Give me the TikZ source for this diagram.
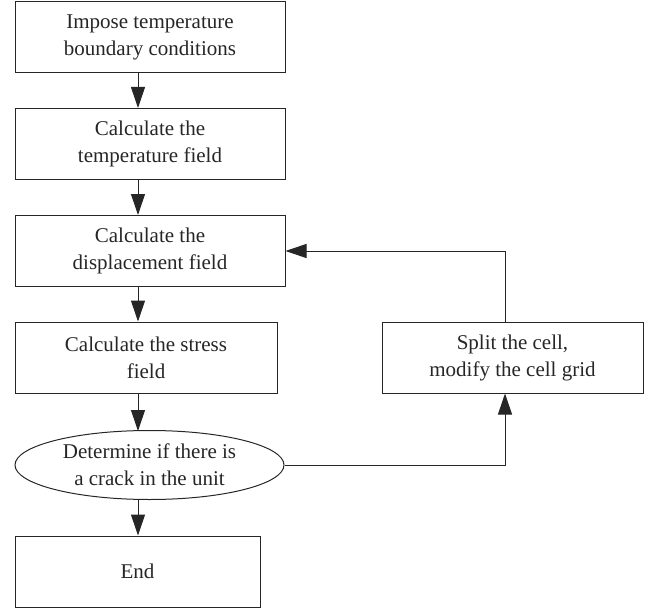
\documentclass[tikz,border=0pt]{standalone}
\usepackage{fontspec}
\setmainfont{Liberation Serif}
\usetikzlibrary{arrows.meta,shapes.geometric,calc}
\begin{document}
\begin{tikzpicture}[x=1pt,y=-1pt,
  line width=1pt,
  every node/.style={font=\fontsize{21}{27}\selectfont, align=center, inner sep=0pt, draw=black!85, text=black!85},
  boxa/.style={rectangle, minimum height=71pt},
  ell/.style={ellipse, minimum width=269pt, minimum height=69pt},
  arr/.style={draw=black!85, -{Triangle[length=21pt,width=14pt]}},
  ln/.style={draw=black!85}
]
\useasboundingbox (0,0) rectangle (648,610);
\node[boxa, minimum width=270pt] (b1) at (150,37.5) {Impose temperature\\boundary conditions};
\node[boxa, minimum width=270pt] (b2) at (150,144) {Calculate the\\temperature field};
\node[boxa, minimum width=270pt] (b3) at (150,251) {Calculate the\\displacement field};
\node[boxa, minimum width=262pt] (b4) at (146,357.5) {Calculate the stress\\field};
\node[ell] (dec) at (149.5,465) {Determine if there is\\a crack in the unit};
\node[boxa, minimum width=245pt] (e) at (137.5,571.5) {End};
\node[boxa, minimum width=261pt] (sp) at (512.5,357.5) {Split the cell,\\modify the cell grid};
\coordinate (ax) at (138,0);
\coordinate (lx) at (505,0);
\draw[arr] (b1.south -| ax) -- (b2.north -| ax);
\draw[arr] (b2.south -| ax) -- (b3.north -| ax);
\draw[arr] (b3.south -| ax) -- (b4.north -| ax);
\draw[arr] (b4.south -| ax) -- ($(dec.south -| ax)+(0,-69)$);
\draw[arr] ($(dec.south -| ax)+(0,-0.5)$) -- (e.north -| ax);
\draw[arr] (dec.east) -| (sp.south -| lx);
\draw[arr] (sp.north -| lx) |- (b3.east);
\end{tikzpicture}
\end{document}
